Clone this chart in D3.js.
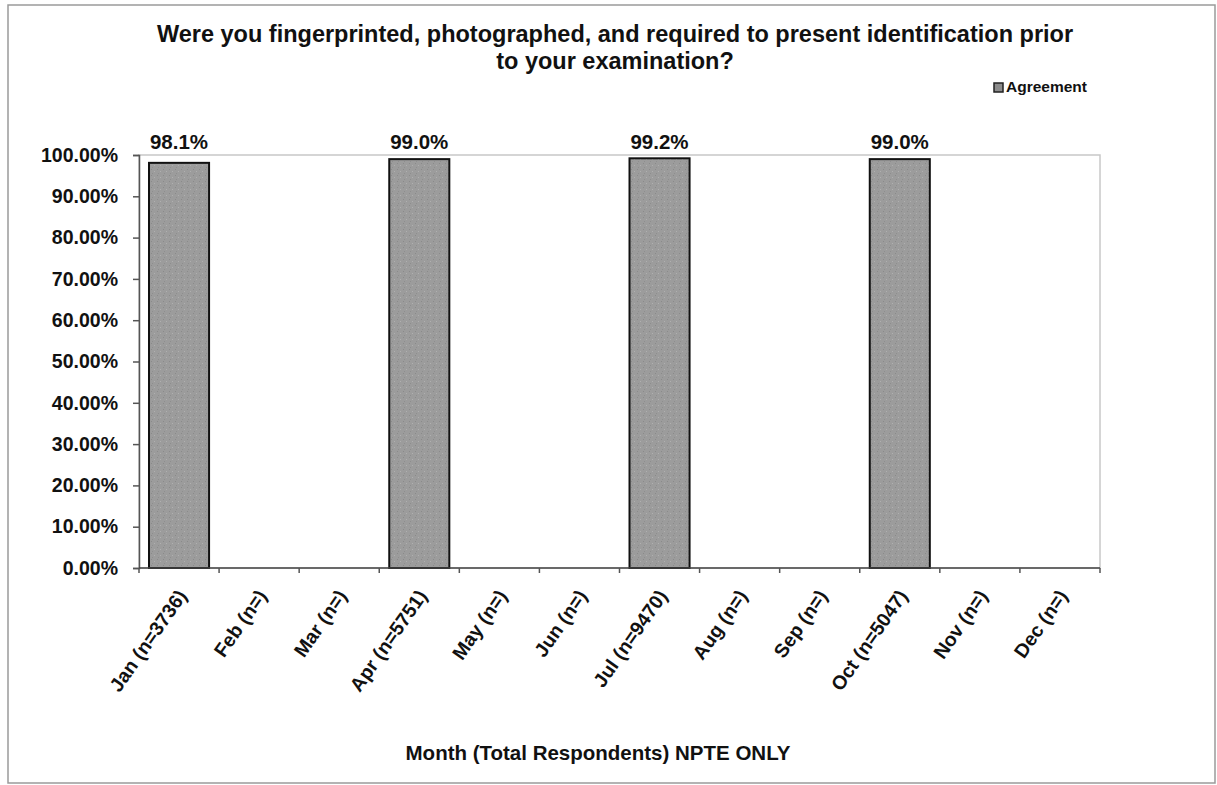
<!DOCTYPE html>
<html>
<head>
<meta charset="utf-8">
<script src="https://cdn.jsdelivr.net/npm/d3@7"></script>
<style>
  html, body { margin: 0; padding: 0; background: #fff; }
  svg { display: block; font-family: "Liberation Sans", Arial, sans-serif; }
</style>
</head>
<body>
<svg id="chart" width="1217" height="785"></svg>
<script>
// Monthly agreement rates (NPTE only)
const months = ["Jan (n=3736)", "Feb (n=)", "Mar (n=)", "Apr (n=5751)", "May (n=)", "Jun (n=)",
                "Jul (n=9470)", "Aug (n=)", "Sep (n=)", "Oct (n=5047)", "Nov (n=)", "Dec (n=)"];
const agreement = [98.1, null, null, 99.0, null, null, 99.2, null, null, 99.0, null, null];
const yTicks = [0, 10, 20, 30, 40, 50, 60, 70, 80, 90, 100];
const titleLines = ["Were you fingerprinted, photographed, and required to present identification prior",
                    "to your examination?"];
const seriesName = "Agreement";
const xTitle = "Month (Total Respondents) NPTE ONLY";

const svg = d3.select("#chart");
const plot = { left: 139, right: 1100, top: 155, bottom: 568 };

// page frame
svg.append("rect").attr("x", 8).attr("y", 5).attr("width", 1207).attr("height", 778)
  .attr("fill", "none").attr("stroke", "#9a9a9a").attr("stroke-width", 1.5);

// stipple pattern for the bars
const defs = svg.append("defs");
const pat = defs.append("pattern").attr("id", "grain").attr("patternUnits", "userSpaceOnUse")
  .attr("width", 6).attr("height", 6);
pat.append("rect").attr("width", 6).attr("height", 6).attr("fill", "#9c9c9c");
pat.append("rect").attr("x", 1).attr("y", 1).attr("width", 1).attr("height", 1).attr("fill", "#8a8a8a");
pat.append("rect").attr("x", 4).attr("y", 3).attr("width", 1).attr("height", 1).attr("fill", "#b0b0b0");
pat.append("rect").attr("x", 2).attr("y", 5).attr("width", 1).attr("height", 1).attr("fill", "#8e8e8e");

const x = d3.scaleBand().domain(months).range([plot.left, plot.right]).paddingInner(0.25).paddingOuter(0.125);
const y = d3.scaleLinear().domain([0, 100]).range([plot.bottom, plot.top]);

// plot area border
svg.append("rect").attr("x", plot.left).attr("y", plot.top)
  .attr("width", plot.right - plot.left).attr("height", plot.bottom - plot.top)
  .attr("fill", "#fff").attr("stroke", "#c8c8c8").attr("stroke-width", 1.5);

// title, two lines
svg.append("g").selectAll("text").data(titleLines).join("text")
  .attr("x", 615).attr("y", (d, i) => 42 + i * 27)
  .attr("text-anchor", "middle").attr("font-size", 23.5).attr("font-weight", "bold").attr("fill", "#111")
  .text(d => d);

// legend
svg.append("rect").attr("x", 994).attr("y", 83).attr("width", 9).attr("height", 9)
  .attr("fill", "#8c8c8c").attr("stroke", "#222").attr("stroke-width", 1.5);
svg.append("text").attr("x", 1006).attr("y", 92).attr("font-size", 15.5).attr("font-weight", "bold")
  .attr("fill", "#111").text(seriesName);

// bars
const data = months.map((m, i) => ({ m, v: agreement[i] })).filter(d => d.v != null);
svg.append("g").selectAll("rect").data(data).join("rect")
  .attr("x", d => x(d.m)).attr("width", x.bandwidth())
  .attr("y", d => y(d.v)).attr("height", d => y(0) - y(d.v))
  .attr("fill", "url(#grain)").attr("stroke", "#111").attr("stroke-width", 2);

// value labels
svg.append("g").selectAll("text").data(data).join("text")
  .attr("x", d => x(d.m) + x.bandwidth() / 2).attr("y", 149)
  .attr("text-anchor", "middle").attr("font-size", 20.5).attr("font-weight", "bold").attr("fill", "#111")
  .text(d => d.v.toFixed(1) + "%");

// y axis
const yAxis = svg.append("g").attr("transform", `translate(${plot.left},0)`)
  .call(d3.axisLeft(y).tickValues(yTicks).tickSize(6).tickPadding(15).tickFormat(d => d.toFixed(2) + "%"));
yAxis.select(".domain").attr("stroke", "#555").attr("stroke-width", 1.5);
yAxis.selectAll(".tick line").attr("stroke", "#555").attr("stroke-width", 1.5);
yAxis.selectAll("text").attr("font-size", 19.5).attr("font-weight", "bold").attr("fill", "#111")
  .attr("font-family", "Liberation Sans, Arial, sans-serif");

// x axis with ticks on category boundaries
const xAxisG = svg.append("g").attr("transform", `translate(0,${plot.bottom})`);
xAxisG.append("line").attr("x1", plot.left).attr("x2", plot.right)
  .attr("stroke", "#444").attr("stroke-width", 1.5);
const step = x.step();
const bounds = d3.range(months.length + 1).map(i => plot.left + i * step);
xAxisG.selectAll("line.tk").data(bounds).join("line").attr("class", "tk")
  .attr("x1", d => d).attr("x2", d => d).attr("y1", 0).attr("y2", 5)
  .attr("stroke", "#555").attr("stroke-width", 1.5);
xAxisG.selectAll("text").data(months).join("text")
  .attr("transform", d => `translate(${x(d) + x.bandwidth() / 2 + 3},24) rotate(-55)`)
  .attr("text-anchor", "end").attr("dy", "0.35em")
  .attr("font-size", 19.5).attr("font-weight", "bold").attr("fill", "#111").text(d => d);

// x axis title
svg.append("text").attr("x", 598).attr("y", 760).attr("text-anchor", "middle")
  .attr("font-size", 20.5).attr("font-weight", "bold").attr("fill", "#111").text(xTitle);
</script>
</body>
</html>
